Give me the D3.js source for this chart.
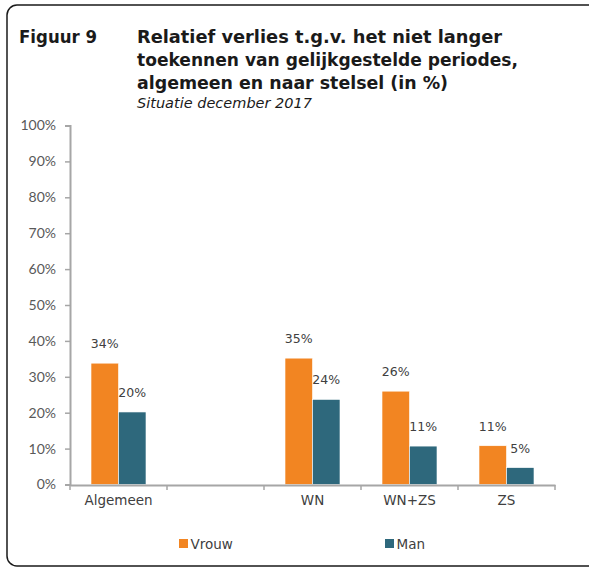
<!DOCTYPE html>
<html><head><meta charset="utf-8">
<script src="https://cdn.jsdelivr.net/npm/d3@7"></script>
<style>
html,body{margin:0;padding:0;background:#fff;}
svg{display:block;}
</style></head>
<body>
<svg id="chart" width="589" height="567"></svg>
<script>
const categories = ["Algemeen", "", "WN", "WN+ZS", "ZS"];
const seriesNames = ["Vrouw", "Man"];
const vrouw = [33.8, null, 35.2, 26.0, 10.8];
const man = [20.2, null, 23.7, 10.7, 4.7];
const yTicks = [0, 10, 20, 30, 40, 50, 60, 70, 80, 90, 100];
const titleLines = ["Relatief verlies t.g.v. het niet langer", "toekennen van gelijkgestelde periodes,", "algemeen en naar stelsel (in %)"];
const figLabel = "Figuur 9";
const subtitle = "Situatie december 2017";
const colors = ["#F28522", "#2E687C"];

const svg = d3.select("#chart");

// frame
svg.append("rect").attr("x", 7).attr("y", 5).attr("width", 620).attr("height", 561)
  .attr("rx", 10).attr("fill", "none").attr("stroke", "#1a1a1a").attr("stroke-width", 1.5);

// title
const titleFont = "'DejaVu Sans', Verdana, sans-serif";
svg.append("text").attr("x", 19).attr("y", 43).text(figLabel)
  .attr("font-family", titleFont).attr("font-weight", "bold").attr("font-size", 18).attr("fill", "#1a1a1a")
  .attr("textLength", 78).attr("lengthAdjust", "spacingAndGlyphs");
const titleWidths = [365, 381, 311];
const titleY = [43, 66, 89];
titleLines.forEach((t, i) => {
  svg.append("text").attr("x", 137).attr("y", titleY[i]).text(t)
    .attr("font-family", titleFont).attr("font-weight", "bold").attr("font-size", 18).attr("fill", "#1a1a1a")
    .attr("textLength", titleWidths[i]).attr("lengthAdjust", "spacingAndGlyphs");
});
svg.append("text").attr("x", 137).attr("y", 108).text(subtitle)
  .attr("font-family", titleFont).attr("font-style", "italic").attr("font-size", 13.5).attr("fill", "#1a1a1a")
  .attr("textLength", 175).attr("lengthAdjust", "spacingAndGlyphs");

// scales
const y = d3.scaleLinear().domain([0, 100]).range([484.5, 125.5]);
const x0 = d3.scaleBand().domain(categories).range([70, 555]).padding(0);
const x1 = d3.scaleBand().domain(seriesNames).range([0, x0.bandwidth()]).paddingInner(0).paddingOuter(0.764);

const axisColor = "#A6A6A6";
const labelColor = "#595959";

// y axis
const yAxis = svg.append("g").attr("transform", "translate(70,0)")
  .call(d3.axisLeft(y).tickValues(yTicks).tickFormat(d => d + "%").tickSize(5).tickPadding(9));
yAxis.select(".domain").attr("stroke", axisColor).attr("stroke-width", 2);
yAxis.selectAll(".tick line").attr("stroke", axisColor).attr("stroke-width", 1.5);
yAxis.selectAll(".tick text").attr("font-family", "Lato, 'Open Sans', sans-serif").attr("font-size", 14)
  .attr("fill", labelColor);

// bars
const valueSets = [vrouw, man];
const bars = svg.append("g");
seriesNames.forEach((s, si) => {
  const data = categories.map((c, ci) => ({c, v: valueSets[si][ci]})).filter(d => d.v != null);
  bars.selectAll(".b" + si).data(data).join("rect")
    .attr("x", d => x0(d.c) + x1(s))
    .attr("y", d => y(d.v))
    .attr("width", x1.bandwidth())
    .attr("height", d => y(0) - y(d.v))
    .attr("fill", colors[si])
    .attr("stroke", "#ffffff").attr("stroke-width", 0.6);
  bars.selectAll(".l" + si).data(data).join("text")
    .attr("x", d => x0(d.c) + x1(s) + x1.bandwidth() / 2)
    .attr("y", d => y(d.v) - 15)
    .attr("text-anchor", "middle")
    .attr("font-family", "'DejaVu Sans', Verdana, sans-serif").attr("font-size", 12.5)
    .attr("fill", "#404040")
    .text(d => Math.round(d.v) + "%");
});

// x axis
const xAxis = svg.append("g").attr("transform", "translate(0,485)")
  .call(d3.axisBottom(x0).tickSize(0).tickPadding(10));
xAxis.select(".domain").attr("stroke", axisColor).attr("stroke-width", 2);
xAxis.selectAll(".tick text").attr("font-family", "'DejaVu Sans', Verdana, sans-serif").attr("font-size", 13.5)
  .attr("fill", "#404040");
const bounds = categories.map(c => x0(c)).concat([x0.range()[1]]);
xAxis.selectAll(".bound").data(bounds).join("line")
  .attr("x1", d => d).attr("x2", d => d).attr("y1", 0).attr("y2", 5)
  .attr("stroke", axisColor).attr("stroke-width", 1.5);

// legend
const legendX = [179, 385];
const leg = svg.append("g");
seriesNames.forEach((s, i) => {
  leg.append("rect").attr("x", legendX[i]).attr("y", 539).attr("width", 9).attr("height", 9).attr("fill", colors[i]);
  leg.append("text").attr("x", legendX[i] + 11.5).attr("y", 548.5).text(s)
    .attr("font-family", "'DejaVu Sans', Verdana, sans-serif").attr("font-size", 13.5).attr("fill", "#404040");
});
</script>
</body></html>
